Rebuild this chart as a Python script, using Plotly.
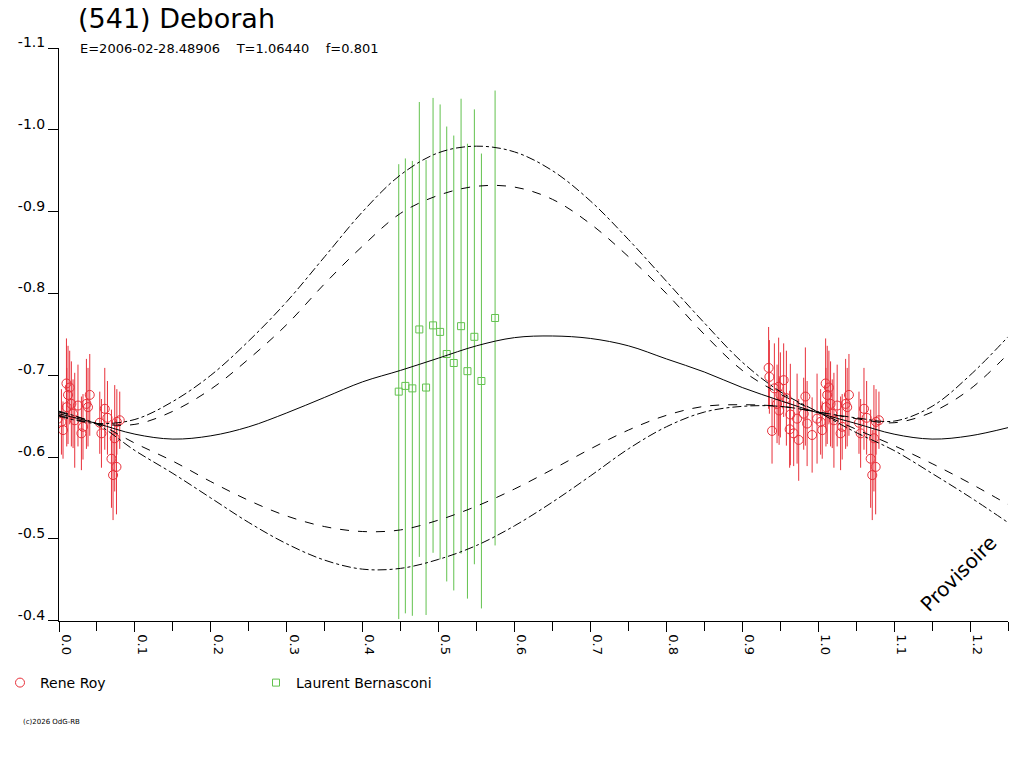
import numpy as np
import plotly.graph_objects as go

RED = "#e8303a"
GREEN = "#62c24e"
FONT = "DejaVu Sans, Verdana, sans-serif"

# Rene Roy: rotational phase, relative magnitude, 1-sigma error
roy_phase = [0.9347, 0.9357, 0.9392, 0.9423, 0.9458, 0.9479, 0.9485, 0.9502, 0.9545, 0.9581,
             0.9624, 0.9633, 0.9677, 0.9722, 0.9743, 0.9809, 0.9831, 0.9854, 0.9920, 0.9985,
             1.0032, 1.0053, 1.0098, 1.0102, 1.0119, 1.0141, 1.0163, 1.0185, 1.0207, 1.0250,
             1.0295, 1.0316, 1.0361, 1.0382, 1.0405, 1.0537, 1.0559, 1.0603, 1.0638, 1.0691,
             1.0712, 1.0734, 1.0757, 1.0762, 1.0800]
roy_mag = [-0.709, -0.698, -0.632, -0.684, -0.665, -0.686, -0.657, -0.676, -0.694, -0.672,
           -0.634, -0.652, -0.629, -0.647, -0.621, -0.653, -0.674, -0.641, -0.627, -0.647,
           -0.643, -0.633, -0.690, -0.661, -0.676, -0.685, -0.665, -0.653, -0.645, -0.663,
           -0.629, -0.637, -0.665, -0.661, -0.676, -0.642, -0.629, -0.659, -0.648, -0.598,
           -0.578, -0.623, -0.588, -0.643, -0.645]
roy_err = [0.050, 0.045, 0.040, 0.055, 0.048, 0.060, 0.042, 0.052, 0.045, 0.058,
           0.047, 0.062, 0.040, 0.055, 0.050, 0.044, 0.060, 0.052, 0.046, 0.055,
           0.040, 0.035, 0.055, 0.048, 0.060, 0.045, 0.052, 0.042, 0.058, 0.050,
           0.045, 0.040, 0.055, 0.048, 0.050, 0.038, 0.042, 0.050, 0.045, 0.060,
           0.055, 0.065, 0.058, 0.040, 0.035]

# Laurent Bernasconi
bern_phase = [0.4475, 0.4562, 0.4654, 0.4746, 0.4835, 0.4927, 0.5020,
              0.5107, 0.5200, 0.5296, 0.5380, 0.5471, 0.5564, 0.5744]
bern_mag = [-0.680, -0.687, -0.684, -0.756, -0.685, -0.761, -0.753,
            -0.726, -0.715, -0.760, -0.705, -0.747, -0.693, -0.770]
bern_err = [0.278, 0.278, 0.278, 0.278, 0.278, 0.278, 0.278,
            0.278, 0.278, 0.278, 0.278, 0.278, 0.278, 0.278]

# Fourier fit and its uncertainty envelopes, read at fixed phases
fit_phase = [0.00, 0.05, 0.10, 0.15, 0.20, 0.25, 0.30, 0.35, 0.40, 0.45, 0.50, 0.55, 0.60,
             0.65, 0.70, 0.75, 0.80, 0.85, 0.90, 0.95, 1.00, 1.05, 1.10, 1.15, 1.20, 1.25]
fit_mag = [-0.653, -0.641, -0.628, -0.622, -0.626, -0.637, -0.654, -0.673, -0.692, -0.706,
           -0.721, -0.736, -0.746, -0.748, -0.745, -0.736, -0.720, -0.704, -0.685, -0.669,
           -0.654, -0.641, -0.628, -0.622, -0.626, -0.636]
dash_a = [-0.651, -0.641, -0.640, -0.656, -0.683, -0.720, -0.762, -0.812, -0.858, -0.898,
          -0.920, -0.931, -0.930, -0.915, -0.885, -0.845, -0.800, -0.750, -0.706, -0.677,
          -0.655, -0.634, -0.614, -0.592, -0.568, -0.542]
dash_b = [-0.655, -0.641, -0.617, -0.595, -0.570, -0.547, -0.528, -0.515, -0.509, -0.511,
          -0.523, -0.540, -0.561, -0.585, -0.610, -0.633, -0.651, -0.662, -0.664, -0.662,
          -0.655, -0.647, -0.642, -0.655, -0.683, -0.726]
dashdot_a = [-0.650, -0.641, -0.646, -0.668, -0.700, -0.742, -0.790, -0.845, -0.900, -0.945,
             -0.972, -0.980, -0.973, -0.950, -0.913, -0.866, -0.815, -0.764, -0.716, -0.680,
             -0.655, -0.630, -0.608, -0.580, -0.551, -0.520]
dashdot_b = [-0.656, -0.640, -0.608, -0.580, -0.550, -0.520, -0.494, -0.474, -0.463, -0.464,
             -0.475, -0.492, -0.516, -0.545, -0.577, -0.610, -0.637, -0.655, -0.662, -0.662,
             -0.655, -0.648, -0.644, -0.662, -0.700, -0.747]

x_ticks = [0.0, 0.1, 0.2, 0.3, 0.4, 0.5, 0.6, 0.7, 0.8, 0.9, 1.0, 1.1, 1.2]
y_ticks = [-1.1, -1.0, -0.9, -0.8, -0.7, -0.6, -0.5, -0.4]

title = "(541) Deborah"
subtitle = "E=2006-02-28.48906    T=1.06440    f=0.801"

fig = go.Figure()

# red points are shown at phase and phase-1 (the part outside the range is clipped)
rp = np.array(roy_phase)
fig.add_trace(go.Scatter(
    x=np.concatenate([rp, rp - 1]), y=roy_mag + roy_mag,
    mode="markers", name="Rene Roy",
    marker=dict(symbol="circle-open", size=9, color=RED, line=dict(width=1)),
    error_y=dict(type="data", array=roy_err + roy_err, width=0, thickness=1, color=RED),
))
fig.add_trace(go.Scatter(
    x=bern_phase, y=bern_mag,
    mode="markers", name="Laurent Bernasconi",
    marker=dict(symbol="square-open", size=7, color=GREEN, line=dict(width=1)),
    error_y=dict(type="data", array=bern_err, width=0, thickness=1, color=GREEN),
))

for ys, dash in [(dash_a, "dash"), (dash_b, "dash"),
                 (dashdot_a, "dashdot"), (dashdot_b, "dashdot"), (fit_mag, "solid")]:
    fig.add_trace(go.Scatter(
        x=fit_phase, y=ys, mode="lines", showlegend=False, hoverinfo="skip",
        line=dict(color="black", width=1, dash=dash, shape="spline", smoothing=1),
    ))

fig.update_layout(
    width=1024, height=768,
    margin=dict(l=59, r=16, t=48, b=145),
    paper_bgcolor="white", plot_bgcolor="white",
    font=dict(family=FONT, size=14, color="black"),
    title=dict(text=title, xref="container", yref="container", x=78 / 1024, y=1 - 19 / 768,
               xanchor="left", yanchor="middle", font=dict(size=27)),
    legend=dict(orientation="h", xref="container", yref="container", x=0.0, y=1 - 683 / 768,
                yanchor="middle", entrywidth=211, entrywidthmode="pixels",
                font=dict(size=14), bgcolor="rgba(0,0,0,0)"),
    xaxis=dict(range=[0, 1.25], showgrid=False, zeroline=False, showline=True,
               linecolor="black", linewidth=1, ticks="outside", ticklen=10, tickcolor="black",
               tickvals=x_ticks, ticktext=[f"{v:.1f}" for v in x_ticks],
               tickangle=90, ticklabelshift=7, tickfont=dict(size=13),
               minor=dict(dtick=0.05, tick0=0, ticks="outside", ticklen=9, tickcolor="black",
                          showgrid=False)),
    yaxis=dict(range=[-0.4, -1.1], showgrid=False, zeroline=False, showline=True,
               linecolor="black", linewidth=1, ticks="outside", ticklen=10, tickcolor="black",
               tickvals=y_ticks, ticktext=[f"{v:.1f}" for v in y_ticks],
               ticklabelshift=6, tickfont=dict(size=14)),
    annotations=[
        dict(text=subtitle.replace(" ", "\u00a0"), xref="paper", yref="paper",
             x=19 / 949, y=1.0, xanchor="left", yanchor="middle", showarrow=False,
             font=dict(size=13)),
        dict(text="Provisoire", xref="paper", yref="paper", x=(958 - 59) / 949,
             y=(623 - 576) / 575, xanchor="center", yanchor="middle", textangle=-45,
             showarrow=False, font=dict(size=20)),
        dict(text="(c)2026 OdG-RB", xref="paper", yref="paper", x=(21 - 59) / 949,
             y=(623 - 725) / 575, xanchor="left", yanchor="middle", showarrow=False,
             font=dict(size=7)),
    ],
)

fig.write_html("out.html", config={"displayModeBar": False},
               post_script="document.body.style.margin = '0';")
